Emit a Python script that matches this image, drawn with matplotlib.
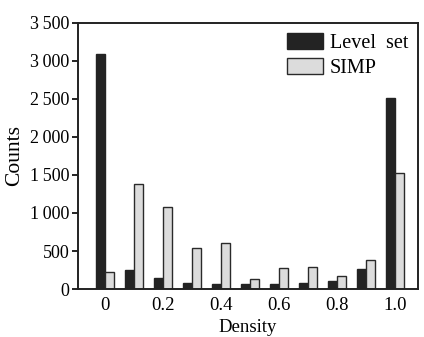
import matplotlib
matplotlib.use("Agg")
import matplotlib.pyplot as plt
import numpy as np

plt.rcParams["font.family"] = ["Liberation Serif", "DejaVu Serif"]

# Data
density = [0.0, 0.1, 0.2, 0.3, 0.4, 0.5, 0.6, 0.7, 0.8, 0.9, 1.0]
level_set = [3090, 250, 145, 80, 65, 65, 65, 80, 105, 260, 2510]
simp = [225, 1380, 1080, 540, 605, 135, 280, 290, 170, 380, 1530]
x_ticks = [0, 0.2, 0.4, 0.6, 0.8, 1.0]
x_labels = ["0", "0.2", "0.4", "0.6", "0.8", "1.0"]
y_ticks = [0, 500, 1000, 1500, 2000, 2500, 3000, 3500]
y_labels = ["0", "500", "1\u2009000", "1\u2009500", "2\u2009000",
            "2\u2009500", "3\u2009000", "3\u2009500"]

fig = plt.figure(figsize=(4.24, 3.37), dpi=100)
ax = fig.add_axes([78 / 424, 1 - 289 / 337, (418 - 78) / 424, (289 - 23) / 337])

x = np.array(density)
w = 0.031
ax.bar(x - w / 2, level_set, width=w, color="#232323", edgecolor="#232323",
       linewidth=1.0, label="Level  set")
ax.bar(x + w / 2, simp, width=w, color="#dcdcdc", edgecolor="#2a2a2a",
       linewidth=1.0, label="SIMP")

ax.set_xlim(-0.093, 1.079)
ax.set_ylim(0, 3500)
ax.set_xticks(x_ticks)
ax.set_xticklabels(x_labels, fontsize=13.5)
ax.set_yticks(y_ticks)
ax.set_yticklabels(y_labels, fontsize=13)
ax.tick_params(axis="x", length=0, pad=6)
ax.tick_params(axis="y", direction="out", length=4, width=1.2, pad=2)
for s in ax.spines.values():
    s.set_linewidth(1.4)
    s.set_color("#222222")

ax.set_xlabel("Density", fontsize=13.5, labelpad=3)
ax.set_ylabel("Counts", fontsize=15.5, labelpad=4)

ax.legend(loc="upper right", fontsize=14.5, frameon=False, handlelength=1.75,
          handleheight=0.85, handletextpad=0.35, labelspacing=0.25,
          borderpad=0.3, borderaxespad=0.2, bbox_to_anchor=(1.0, 1.0))

fig.savefig("out.png", dpi=100)
